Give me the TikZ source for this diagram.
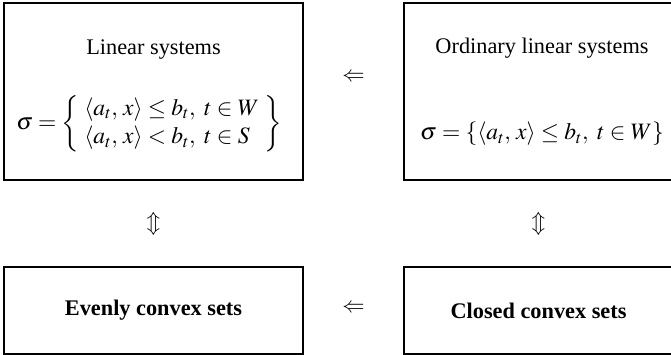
\documentclass[tikz,border=0pt]{standalone}
\usepackage{mathptmx}
\usepackage{fontspec}
\setmainfont{Liberation Serif}
\usetikzlibrary{positioning,calc}

\begin{document}
\begin{tikzpicture}[
  x=1pt, y=1pt, font=\fontsize{22.3}{27}\selectfont,
  every node/.style={align=center},
  topbox/.style={rectangle, draw=black, line width=2.2pt, minimum width=299pt, minimum height=177pt, inner sep=0pt},
  lowbox/.style={rectangle, draw=black, line width=1.6pt, minimum width=299pt, minimum height=87pt, inner sep=0pt},
  formula/.style={font=\fontsize{23.5}{28.5}\selectfont},
  rel/.style={inner sep=0pt},
]
\useasboundingbox (0,0) rectangle (671,355);

% boxes
\node[topbox] (lin) at (153.5,263.5) {};
\node[topbox, minimum width=269pt] (ord) at (538.5,263.5) {};
\node[lowbox] (even) at (153.5,44.5) {\textbf{Evenly convex sets}};
\node[lowbox, minimum width=269pt] (closed) at (538.5,44.5) {\textbf{Closed convex sets}};

% contents of the upper boxes
\node (lintitle) at (153.5,305) {Linear systems};
\node[formula] (lineq) at (149,231) {$\sigma = \left\{\begin{array}{l}
  \langle a_t,\,x\rangle \le b_t,\ t\in W\\
  \langle a_t,\,x\rangle < b_t,\ t\in S
  \end{array}\right\}$};
\node (ordtitle) at (542,307) {Ordinary linear systems};
\node[formula] (ordeq) at (542,221) {$\sigma = \{\langle a_t,\,x\rangle \le b_t,\ t\in W\}$};

% implications
\node[rel] (imptop) at ($(lin.east)!0.5!(ord.west)+(0,14)$) {$\Leftarrow$};
\node[rel] (implow) at ($(even.east)!0.5!(closed.west)+(0,2)$) {$\Leftarrow$};
\node[rel] (eqleft) at ($(lin.south)!0.5!(even.north)$) {$\Updownarrow$};
\node[rel] (eqright) at ($(ord.south)!0.5!(closed.north)$) {$\Updownarrow$};
\end{tikzpicture}
\end{document}
